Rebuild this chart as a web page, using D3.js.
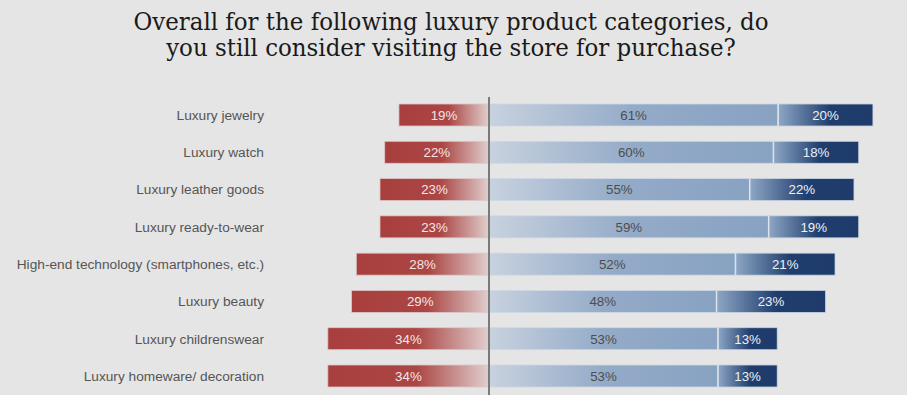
<!DOCTYPE html>
<html>
<head>
<meta charset="utf-8">
<script src="https://cdn.jsdelivr.net/npm/d3@7"></script>
<style>
  html, body { margin: 0; padding: 0; background: #e5e5e5; }
  svg { display: block; }
</style>
</head>
<body>
<script>
const w = 907; // width
const h = 395; // height

// categories, top to bottom
const categories = [
    "Luxury jewelry",
    "Luxury watch",
    "Luxury leather goods",
    "Luxury ready-to-wear",
    "High-end technology (smartphones, etc.)",
    "Luxury beauty",
    "Luxury childrenswear",
    "Luxury homeware/ decoration"
];

// bar lengths (%) as drawn in the picture
const negative = [19, 22, 23, 23, 28, 29, 34, 34];
const neutral  = [61, 60, 55, 59, 52, 48, 48.3, 48.3];
const positive = [20, 18, 22, 19, 21, 23, 12.5, 12.5];

// value labels as printed on the bars
const negativeLabels = ["19%", "22%", "23%", "23%", "28%", "29%", "34%", "34%"];
const neutralLabels  = ["61%", "60%", "55%", "59%", "52%", "48%", "53%", "53%"];
const positiveLabels = ["20%", "18%", "22%", "19%", "21%", "23%", "13%", "13%"];

const title = [
    "Overall for the following luxury product categories, do",
    "you still consider visiting the store for purchase?"
];

let svg = d3.select("body")
    .append("svg")
    .attr("width", w)
    .attr("height", h);

svg.append("rect")
    .attr("width", w)
    .attr("height", h)
    .attr("fill", "#e5e5e5");

// gradients
let defs = svg.append("defs");
function gradient(id, stops) {
    let g = defs.append("linearGradient")
        .attr("id", id)
        .attr("x1", 0).attr("x2", 1).attr("y1", 0).attr("y2", 0);
    stops.forEach(s => g.append("stop").attr("offset", s[0]).attr("stop-color", s[1]));
}
gradient("gNeg", [[0, "#a83f3e"], [0.55, "#ab4644"], [1, "#e0cfce"]]);
gradient("gNeu", [[0, "#c8d2df"], [0.5, "#94abc8"], [1, "#88a2c2"]]);
gradient("gPos", [[0, "#8ea7c6"], [0.55, "#1f3d6d"], [1, "#1e3b6b"]]);

// scales
let x = d3.scaleLinear()
    .domain([-35, 85])
    .range([489 - 35 * 4.74, 489 + 85 * 4.74]);

let y = d3.scalePoint()
    .domain(categories)
    .range([115, 376]);

const bh = 22; // bar height

let rows = categories.map((c, i) => ({
    cat: c,
    neg: negative[i], neu: neutral[i], pos: positive[i],
    negL: negativeLabels[i], neuL: neutralLabels[i], posL: positiveLabels[i]
}));

let row = svg.selectAll("g.row")
    .data(rows)
    .enter()
    .append("g")
    .attr("class", "row")
    .attr("transform", d => `translate(0,${y(d.cat)})`);

// category labels
row.append("text")
    .attr("x", 264)
    .attr("y", 0)
    .attr("dy", "0.35em")
    .attr("text-anchor", "end")
    .attr("font-family", "'Liberation Sans', Arial, sans-serif")
    .attr("font-size", 13.7)
    .attr("fill", "#555")
    .text(d => d.cat);

// negative bar
row.append("rect")
    .attr("x", d => x(-d.neg))
    .attr("y", -bh / 2)
    .attr("width", d => x(0) - x(-d.neg))
    .attr("height", bh)
    .attr("fill", "url(#gNeg)")
    .attr("stroke", "#dcc8c8")
    .attr("stroke-width", 0.8);

// neutral bar
row.append("rect")
    .attr("x", x(0))
    .attr("y", -bh / 2)
    .attr("width", d => x(d.neu) - x(0))
    .attr("height", bh)
    .attr("fill", "url(#gNeu)")
    .attr("stroke", "#cfd8e3")
    .attr("stroke-width", 0.8);

// positive bar
row.append("rect")
    .attr("x", d => x(d.neu))
    .attr("y", -bh / 2)
    .attr("width", d => x(d.neu + d.pos) - x(d.neu))
    .attr("height", bh)
    .attr("fill", "url(#gPos)")
    .attr("stroke", "#c9d3df")
    .attr("stroke-width", 0.8);

// separator between neutral and positive
row.append("line")
    .attr("x1", d => x(d.neu))
    .attr("x2", d => x(d.neu))
    .attr("y1", -bh / 2)
    .attr("y2", bh / 2)
    .attr("stroke", "#dde3ea")
    .attr("stroke-width", 1.5);

// value labels
const lblFont = "'Liberation Sans', Arial, sans-serif";
row.append("text")
    .attr("x", d => (x(-d.neg) + x(0)) / 2)
    .attr("dy", "0.36em")
    .attr("text-anchor", "middle")
    .attr("font-family", lblFont)
    .attr("font-size", 13.3)
    .attr("fill", "#f3e6e6")
    .text(d => d.negL);

row.append("text")
    .attr("x", d => (x(0) + x(d.neu)) / 2)
    .attr("dy", "0.36em")
    .attr("text-anchor", "middle")
    .attr("font-family", lblFont)
    .attr("font-size", 13.3)
    .attr("fill", "#4d4d4d")
    .text(d => d.neuL);

row.append("text")
    .attr("x", d => (x(d.neu) + x(d.neu + d.pos)) / 2)
    .attr("dy", "0.36em")
    .attr("text-anchor", "middle")
    .attr("font-family", lblFont)
    .attr("font-size", 13.3)
    .attr("fill", "#eef0f4")
    .text(d => d.posL);

// center line
svg.append("line")
    .attr("x1", x(0))
    .attr("x2", x(0))
    .attr("y1", 97)
    .attr("y2", h)
    .attr("stroke", "#7a7a7a")
    .attr("stroke-width", 2);

// title, a wide serif squeezed to look condensed
let tLines = svg.append("g")
    .selectAll("text")
    .data(title)
    .enter()
    .append("text")
    .attr("x", 451)
    .attr("y", (d, i) => 30 + i * 26)
    .attr("text-anchor", "middle")
    .attr("font-family", "'DejaVu Serif', Georgia, serif")
    .attr("font-size", 24)
    .attr("fill", "#1a1a1a")
    .text(d => d);

let squeeze = 635 / tLines.nodes()[0].getComputedTextLength();
tLines.each(function () {
    let len = this.getComputedTextLength();
    d3.select(this)
        .attr("textLength", len * squeeze)
        .attr("lengthAdjust", "spacingAndGlyphs");
});
</script>
</body>
</html>
